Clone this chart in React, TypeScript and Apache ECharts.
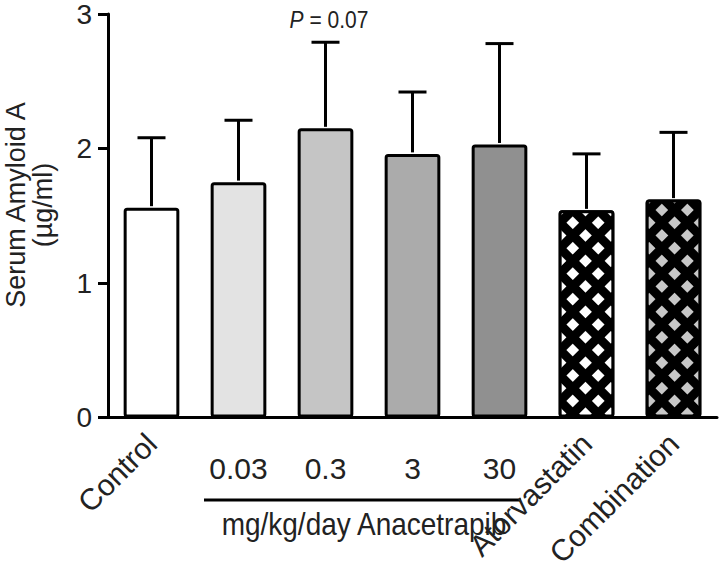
import React, { useEffect, useRef } from "react";
import * as echarts from "echarts";

const categories = ["Control", "0.03", "0.3", "3", "30", "Atorvastatin", "Combination"];
const means = [1.56, 1.75, 2.15, 1.96, 2.03, 1.54, 1.62];
const sem = [0.52, 0.46, 0.64, 0.46, 0.75, 0.42, 0.5];
const fills = ["#ffffff", "#e3e3e3", "#c5c5c5", "#ababab", "#909090", "#000000", "#000000"];
const hatchColors = [null, null, null, null, null, "#ffffff", "#c8c8c8"];
const rotatedLabels = ["Control", "Atorvastatin", "Combination"];
const yTicks = [0, 1, 2, 3];

const FONT = "'Liberation Sans', Arial, Helvetica, sans-serif";
const TXT = "#222";

export default function App() {
  const ref = useRef<HTMLDivElement>(null);
  useEffect(() => {
    if (!ref.current) return;
    const chart = echarts.init(ref.current, null, { renderer: "svg" });
    const barData = means.map((v, i) => {
      const style: any = {
        color: fills[i],
        borderColor: "#000",
        borderWidth: 3,
        borderRadius: 2,
      };
      if (hatchColors[i]) {
        style.decal = {
          symbol: "rect",
          symbolSize: 1,
          color: hatchColors[i],
          dashArrayX: [9, 9],
          dashArrayY: [9, 9],
          rotation: Math.PI / 4,
        };
      }
      return { value: v, itemStyle: style };
    });
    const option: any = {
      animation: false,
      grid: { left: 108, right: 3, top: 14, bottom: 155.5, outerBoundsMode: "none", containLabel: false },
      xAxis: [
        {
          type: "category",
          data: categories,
          position: "bottom",
          axisLine: { lineStyle: { color: "#000", width: 3 } },
          axisTick: { alignWithLabel: true, length: 10, lineStyle: { color: "#000", width: 3 } },
          axisLabel: {
            interval: 0,
            rotate: 45,
            margin: 21,
            fontSize: 30,
            lineHeight: 22,
            fontFamily: FONT,
            color: TXT,
            formatter: (v: string) => (rotatedLabels.includes(v) ? v : ""),
          },
        },
        {
          type: "category",
          data: categories,
          position: "bottom",
          axisLine: { show: false },
          axisTick: { show: false },
          axisLabel: {
            interval: 0,
            margin: 36,
            fontSize: 30,
            fontFamily: FONT,
            color: TXT,
            formatter: (v: string) => (rotatedLabels.includes(v) ? "" : v),
          },
        },
      ],
      yAxis: {
        type: "value",
        min: yTicks[0],
        max: yTicks[yTicks.length - 1],
        interval: 1,
        splitLine: { show: false },
        axisLine: { show: true, lineStyle: { color: "#000", width: 3 } },
        axisTick: { show: true, length: 10, lineStyle: { color: "#000", width: 3 } },
        axisLabel: { margin: 16, fontSize: 28, lineHeight: 22, fontFamily: FONT, color: TXT },
      },
      series: [
        {
          type: "bar",
          data: barData,
          barWidth: "64%",
          xAxisIndex: 0,
          z: 2,
        },
        {
          type: "custom",
          xAxisIndex: 0,
          z: 3,
          data: means.map((m, i) => [i, m, sem[i]]),
          renderItem: (params: any, api: any) => {
            const i = api.value(0);
            const m = api.value(1);
            const e = api.value(2);
            const p0 = api.coord([i, m]);
            const p1 = api.coord([i, m + e]);
            const half = 14;
            const st = { stroke: "#000", lineWidth: 3 };
            return {
              type: "group",
              children: [
                { type: "line", shape: { x1: p0[0], y1: p0[1] - 1.5, x2: p1[0], y2: p1[1] }, style: st },
                { type: "line", shape: { x1: p1[0] - half, y1: p1[1], x2: p1[0] + half, y2: p1[1] }, style: st },
              ],
            };
          },
        },
      ],
      graphic: [
        {
          type: "text",
          x: 29,
          y: 205,
          rotation: Math.PI / 2,
          style: {
            text: "Serum Amyloid A\n(µg/ml)",
            fontSize: 27,
            lineHeight: 27,
            fontFamily: FONT,
            fill: TXT,
            align: "center",
            verticalAlign: "middle",
          },
        },
        {
          type: "text",
          x: 329,
          y: 20,
          scaleY: 1.15,
          style: {
            text: "{i|P} = 0.07",
            fontSize: 21,
            fontFamily: FONT,
            fill: TXT,
            align: "center",
            verticalAlign: "middle",
            rich: { i: { fontStyle: "italic", fontSize: 21, fontFamily: FONT, fill: TXT } },
          },
        },
        {
          type: "line",
          shape: { x1: 204, y1: 500, x2: 521, y2: 500 },
          style: { stroke: "#000", lineWidth: 3 },
        },
        {
          type: "text",
          x: 364,
          y: 524,
          scaleY: 1.15,
          style: {
            text: "mg/kg/day Anacetrapib",
            fontSize: 28,
            fontFamily: FONT,
            fill: TXT,
            align: "center",
            verticalAlign: "middle",
          },
        },
      ],
    };
    chart.setOption(option);
    return () => chart.dispose();
  }, []);
  return (
    <div
      ref={ref}
      style={{ position: "fixed", left: 0, top: 0, width: 720, height: 573, background: "#fff" }}
    />
  );
}
